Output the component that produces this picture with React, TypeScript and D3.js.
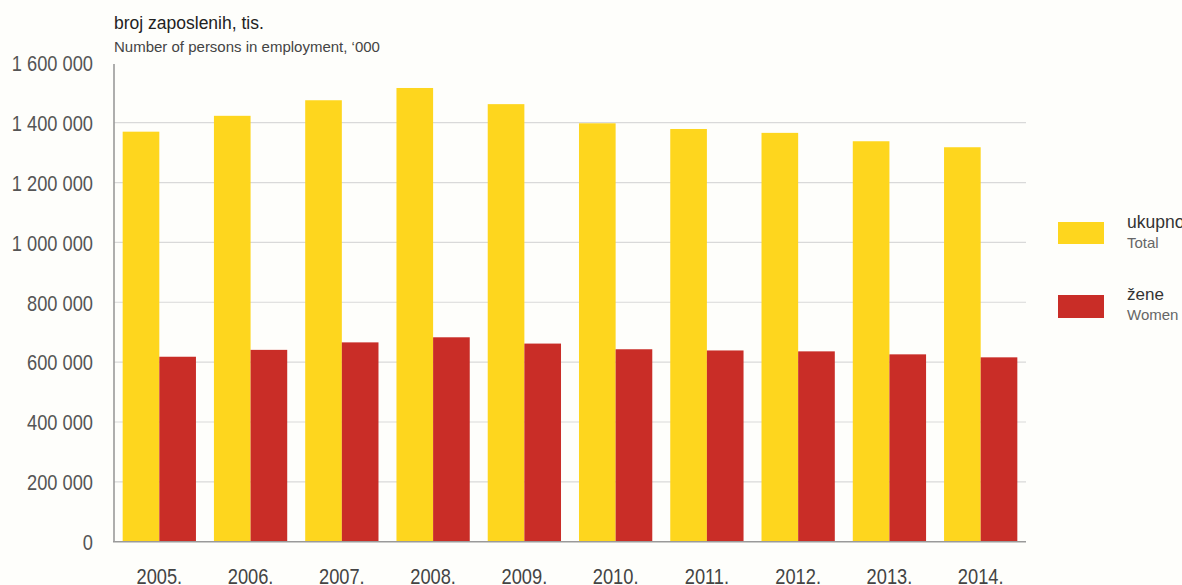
import { useMemo } from 'react'
import * as d3 from 'd3'

const years = ['2005.', '2006.', '2007.', '2008.', '2009.', '2010.', '2011.', '2012.', '2013.', '2014.']
const total = [1370000, 1423000, 1475000, 1516000, 1462000, 1398000, 1379000, 1366000, 1338000, 1318000]
const women = [618000, 641000, 666000, 683000, 662000, 643000, 639000, 636000, 626000, 616000]
const yTicks = [0, 200000, 400000, 600000, 800000, 1000000, 1200000, 1400000, 1600000]

const W = 1182
const H = 585
const FONT = '"Liberation Sans", Arial, sans-serif'
const YELLOW = '#fed61e'
const RED = '#c92d27'
// the reference uses a condensed face; squeeze the glyphs instead
const NARROW = 0.83

const fmt = (v: number) => d3.format(',')(v).replace(/,/g, ' ')

export default function App() {
  const x = useMemo(() => d3.scaleBand<string>()
    .domain(years)
    .range([114, 1026])
    .paddingInner(0.197)
    .paddingOuter(0.095), [])

  const series = useMemo(() => d3.scaleBand<string>()
    .domain(['total', 'women'])
    .range([0, x.bandwidth()]), [x])

  const y = useMemo(() => d3.scaleLinear()
    .domain([0, 1400000])
    .range([541.7, 122.7]), [])

  return (
    <svg width={W} height={H} style={{ position: 'absolute', left: 0, top: 0, background: '#fefefb' }}>
      <rect width={W} height={H} fill="#fefefb" />

      {/* titles */}
      <text x={114} y={29} fontFamily={FONT} fontSize={17.5} fill="#222">broj zaposlenih, tis.</text>
      <text x={114} y={52} fontFamily={FONT} fontSize={15} fill="#444">Number of persons in employment, ‘000</text>

      {/* grid */}
      {yTicks.filter(t => t > 0 && t < 1600000).map(t => (
        <line key={t} x1={114} x2={1026} y1={y(t)} y2={y(t)} stroke="#d9d9d9" strokeWidth={1.2} />
      ))}

      {/* bars */}
      {years.map((yr, i) => (
        <g key={yr} transform={`translate(${x(yr)},0)`}>
          <rect x={series('total')} y={y(total[i])} width={series.bandwidth()} height={y(0) - y(total[i])} fill={YELLOW} />
          <rect x={series('women')} y={y(women[i])} width={series.bandwidth()} height={y(0) - y(women[i])} fill={RED} />
        </g>
      ))}

      {/* axes */}
      <line x1={114} x2={114} y1={64} y2={y(0)} stroke="#9a9a9a" strokeWidth={1.6} />
      <line x1={113} x2={1026} y1={y(0)} y2={y(0)} stroke="#9a9a9a" strokeWidth={1.6} />

      {yTicks.map(t => (
        <text key={t} transform={`translate(93,${y(t)}) scale(${NARROW},1)`} dy="0.38em" textAnchor="end"
          fontFamily={FONT} fontSize={22} fill="#555">
          {fmt(t)}
        </text>
      ))}

      {years.map(yr => (
        <text key={yr} transform={`translate(${(x(yr) || 0) + x.bandwidth() / 2},584) scale(${NARROW},1)`}
          textAnchor="middle" fontFamily={FONT} fontSize={22} fill="#444">
          {yr}
        </text>
      ))}

      {/* legend */}
      <rect x={1058} y={222} width={46} height={22} fill={YELLOW} />
      <text x={1127} y={228} fontFamily={FONT} fontSize={17.5} fill="#333">ukupno</text>
      <text x={1127} y={248} fontFamily={FONT} fontSize={15} fill="#666">Total</text>
      <rect x={1058} y={295} width={46} height={23} fill={RED} />
      <text x={1127} y={300} fontFamily={FONT} fontSize={17} fill="#333">žene</text>
      <text x={1127} y={320} fontFamily={FONT} fontSize={15} fill="#666">Women</text>
    </svg>
  )
}
